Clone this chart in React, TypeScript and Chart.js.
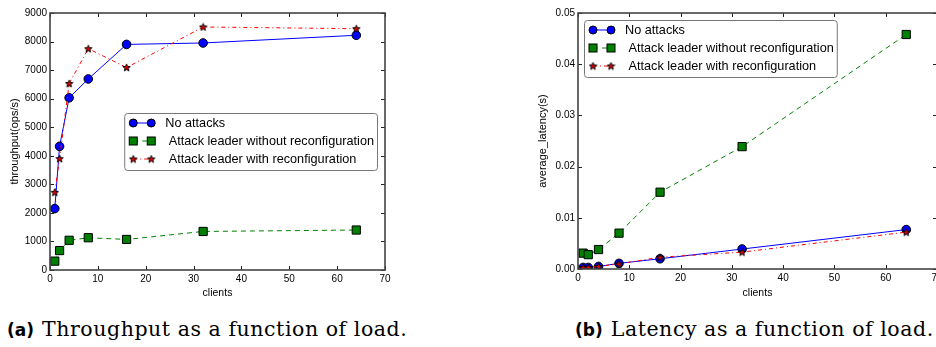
import React, { useEffect, useRef } from 'react';
import { Chart, registerables } from 'chart.js';

Chart.register(...registerables);

// ---------- data ----------
const clients = [1, 2, 4, 8, 16, 32, 64];
const throughputNoAttack = [2150, 4330, 6030, 6690, 7900, 7950, 8220];
const throughputNoReconf = [310, 680, 1040, 1130, 1070, 1350, 1400];
const throughputReconf = [2720, 3900, 6530, 7750, 7090, 8510, 8450];
const latencyNoAttack = [0.0003, 0.0003, 0.0005, 0.0011, 0.002, 0.0039, 0.0077];
const latencyNoReconf = [0.0031, 0.0028, 0.0038, 0.007, 0.015, 0.0239, 0.0458];
const latencyReconf = [0.0003, 0.0003, 0.0005, 0.001, 0.0023, 0.0033, 0.0072];
const seriesLabels = ['No attacks', ' Attack leader without reconfiguration', ' Attack leader with reconfiguration'];
const xTitle = 'clients';
const yTitleThroughput = 'throughput(ops/s)';
const yTitleLatency = 'average_latency(s)';
const captionA = ['(a)', 'Throughput as a function of load.'];
const captionB = ['(b)', 'Latency as a function of load.'];

const FONT = "'Liberation Sans', Arial, sans-serif";

function makeStar(size: number) {
  const c = document.createElement('canvas');
  c.width = size;
  c.height = size;
  const ctx = c.getContext('2d')!;
  const cx = size / 2, cy = size / 2 + 0.3;
  const R = size / 2 - 0.6, r = R * 0.42;
  ctx.beginPath();
  for (let i = 0; i < 10; i++) {
    const ang = -Math.PI / 2 + (i * Math.PI) / 5;
    const rad = i % 2 === 0 ? R : r;
    ctx.lineTo(cx + rad * Math.cos(ang), cy + rad * Math.sin(ang));
  }
  ctx.closePath();
  ctx.fillStyle = '#e00000';
  ctx.fill();
  ctx.strokeStyle = '#000';
  ctx.lineWidth = 1;
  ctx.stroke();
  return c;
}

function pairs(values: number[]) {
  return clients.map((c, i) => ({ x: c, y: values[i] }));
}

function makeDatasets(a: number[], b: number[], c: number[], star: HTMLCanvasElement) {
  return [
    {
      label: seriesLabels[0],
      data: pairs(a),
      borderColor: '#0000ff',
      backgroundColor: '#0000ff',
      borderWidth: 1,
      pointStyle: 'circle',
      pointRadius: 4.3,
      pointBorderColor: '#000',
      pointBackgroundColor: '#0000ff',
      pointBorderWidth: 1,
      order: 2,
      mk: 'circle',
    },
    {
      label: seriesLabels[1],
      data: pairs(b),
      borderColor: '#008000',
      backgroundColor: '#008000',
      borderWidth: 1,
      borderDash: [5, 4],
      pointStyle: 'rect',
      pointRadius: 5.8,
      pointBorderColor: '#000',
      pointBackgroundColor: '#008000',
      pointBorderWidth: 1,
      order: 1,
      mk: 'rect',
    },
    {
      label: seriesLabels[2],
      data: pairs(c),
      borderColor: '#ff0000',
      backgroundColor: '#ff0000',
      borderWidth: 1,
      borderDash: [4, 3, 1, 3],
      pointStyle: star,
      pointRadius: 4,
      order: 0,
      mk: 'star',
    },
  ];
}

const mplPlugin = {
  id: 'mpl',
  afterDraw(chart: any, _args: any, opts: any) {
    const { ctx, chartArea: a, scales } = chart;
    const xs = scales.x, ys = scales.y;
    ctx.save();
    // inward ticks on all four sides
    ctx.strokeStyle = '#222';
    ctx.lineWidth = 1;
    const L = 4;
    ctx.beginPath();
    xs.ticks.forEach((t: any) => {
      const px = Math.round(xs.getPixelForValue(t.value)) + 0.5;
      ctx.moveTo(px, a.bottom);
      ctx.lineTo(px, a.bottom - L);
      ctx.moveTo(px, a.top);
      ctx.lineTo(px, a.top + L);
    });
    ys.ticks.forEach((t: any) => {
      const py = Math.round(ys.getPixelForValue(t.value)) + 0.5;
      ctx.moveTo(a.left, py);
      ctx.lineTo(a.left + L, py);
      ctx.moveTo(a.right, py);
      ctx.lineTo(a.right - L, py);
    });
    ctx.stroke();
    // frame
    ctx.strokeStyle = '#444';
    ctx.lineWidth = 1.6;
    ctx.strokeRect(a.left, a.top, a.right - a.left, a.bottom - a.top);

    // legend
    const fs = 12.7;
    ctx.font = `${fs}px ${FONT}`;
    const dsets = chart.data.datasets;
    let maxW = 0;
    dsets.forEach((d: any) => { maxW = Math.max(maxW, ctx.measureText(d.label).width); });
    const bw = 41 + maxW + 3;
    const bh = 57;
    let bx: number, by: number;
    if (opts.loc === 'centerRight') {
      bx = a.right - 8 - bw;
      by = (a.top + a.bottom) / 2 - bh / 2;
    } else {
      bx = a.left + 6;
      by = a.top + 7;
    }
    ctx.fillStyle = '#fff';
    ctx.strokeStyle = '#777';
    ctx.lineWidth = 1;
    ctx.beginPath();
    const rr = 3;
    (ctx as any).roundRect ? (ctx as any).roundRect(bx + 0.5, by + 0.5, bw, bh, rr) : ctx.rect(bx + 0.5, by + 0.5, bw, bh);
    ctx.fill();
    ctx.stroke();
    dsets.forEach((d: any, i: number) => {
      const ry = by + 10 + i * 18;
      const m1 = bx + 9, m2 = bx + 27;
      ctx.save();
      ctx.strokeStyle = d.borderColor;
      ctx.lineWidth = 1;
      ctx.setLineDash(d.borderDash || []);
      ctx.beginPath();
      ctx.moveTo(m1, ry);
      ctx.lineTo(m2, ry);
      ctx.stroke();
      ctx.restore();
      [m1, m2].forEach((mx) => {
        if (d.mk === 'circle') {
          ctx.beginPath();
          ctx.arc(mx, ry, 4, 0, Math.PI * 2);
          ctx.fillStyle = d.pointBackgroundColor;
          ctx.fill();
          ctx.strokeStyle = '#000';
          ctx.stroke();
        } else if (d.mk === 'rect') {
          ctx.fillStyle = d.pointBackgroundColor;
          ctx.fillRect(mx - 4, ry - 4, 8, 8);
          ctx.strokeStyle = '#000';
          ctx.strokeRect(mx - 4, ry - 4, 8, 8);
        } else {
          const img = d.pointStyle as HTMLCanvasElement;
          ctx.drawImage(img, mx - img.width / 2, ry - img.height / 2);
        }
      });
      ctx.fillStyle = '#000';
      ctx.textBaseline = 'middle';
      ctx.textAlign = 'left';
      ctx.font = `${fs}px ${FONT}`;
      ctx.fillText(d.label, bx + 41, ry + 0.5);
    });
    ctx.restore();
  },
};

function axisCommon(extra: any) {
  return {
    type: 'linear',
    grid: { display: false, drawTicks: false },
    border: { display: false },
    ...extra,
  };
}

function buildConfig(ds: any[], yMax: number, yStep: number, yFmt: (v: number) => string, yTitle: string, opt: any) {
  return {
    type: 'line',
    data: { datasets: ds },
    plugins: [mplPlugin],
    options: {
      animation: false,
      responsive: false,
      devicePixelRatio: 1,
      layout: { padding: { top: 13, right: opt.padRight, left: 0, bottom: 0 } },
      plugins: {
        legend: { display: false },
        tooltip: { enabled: false },
        mpl: { loc: opt.loc },
      },
      scales: {
        x: axisCommon({
          min: 0,
          max: 70,
          ticks: { stepSize: 10, padding: 3, color: '#000', font: { family: FONT, size: 10 }, maxRotation: 0, autoSkip: false },
          title: { display: true, text: xTitle, color: '#000', font: { family: FONT, size: 10.5 }, padding: { top: 0, bottom: 1 } },
          afterFit: (s: any) => { s.height = opt.xHeight; },
        }),
        y: axisCommon({
          min: 0,
          max: yMax,
          ticks: { stepSize: yStep, padding: 3, color: '#000', font: { family: FONT, size: 10 }, callback: (v: any) => yFmt(Number(v)) },
          title: { display: true, text: yTitle, color: '#000', font: { family: FONT, size: 11 }, padding: { top: opt.yTitlePad, bottom: 0 } },
          afterFit: (s: any) => { s.width = opt.yWidth; },
        }),
      },
    },
  };
}

export default function App() {
  const ref1 = useRef<HTMLCanvasElement>(null);
  const ref2 = useRef<HTMLCanvasElement>(null);

  useEffect(() => {
    const star = makeStar(9);
    const c1 = new Chart(
      ref1.current!,
      buildConfig(
        makeDatasets(throughputNoAttack, throughputNoReconf, throughputReconf, star),
        9000,
        1000,
        (v) => String(Math.round(v)),
        yTitleThroughput,
        { padRight: 15, loc: 'centerRight', xHeight: 30, yWidth: 50, yTitlePad: 8.4 }
      ) as any
    );
    const c2 = new Chart(
      ref2.current!,
      buildConfig(
        makeDatasets(latencyNoAttack, latencyNoReconf, latencyReconf, star),
        0.05,
        0.01,
        (v) => v.toFixed(2),
        yTitleLatency,
        { padRight: 18, loc: 'upperLeft', xHeight: 31, yWidth: 78, yTitlePad: 36.4 }
      ) as any
    );
    return () => {
      c1.destroy();
      c2.destroy();
    };
  }, []);

  const capSans: React.CSSProperties = { fontFamily: "'DejaVu Sans', sans-serif", fontWeight: 700, fontSize: 17 };
  const capSerif: React.CSSProperties = { fontFamily: "'DejaVu Serif', serif", fontSize: 20.5, letterSpacing: '0.55px', marginLeft: 8 };

  return (
    <div style={{ position: 'fixed', left: 0, top: 0, width: 936, height: 347, overflow: 'hidden', background: '#fff' }}>
      <canvas ref={ref1} width={400} height={300} style={{ position: 'absolute', left: 0, top: 0, width: 400, height: 300 }} />
      <canvas ref={ref2} width={455} height={300} style={{ position: 'absolute', left: 500, top: 0, width: 455, height: 300 }} />
      <div style={{ position: 'absolute', left: 7, top: 317, whiteSpace: 'nowrap', lineHeight: '24px' }}>
        <span style={capSans}>{captionA[0]}</span>
        <span style={capSerif}>{captionA[1]}</span>
      </div>
      <div style={{ position: 'absolute', left: 575, top: 317, whiteSpace: 'nowrap', lineHeight: '24px' }}>
        <span style={capSans}>{captionB[0]}</span>
        <span style={capSerif}>{captionB[1]}</span>
      </div>
    </div>
  );
}
